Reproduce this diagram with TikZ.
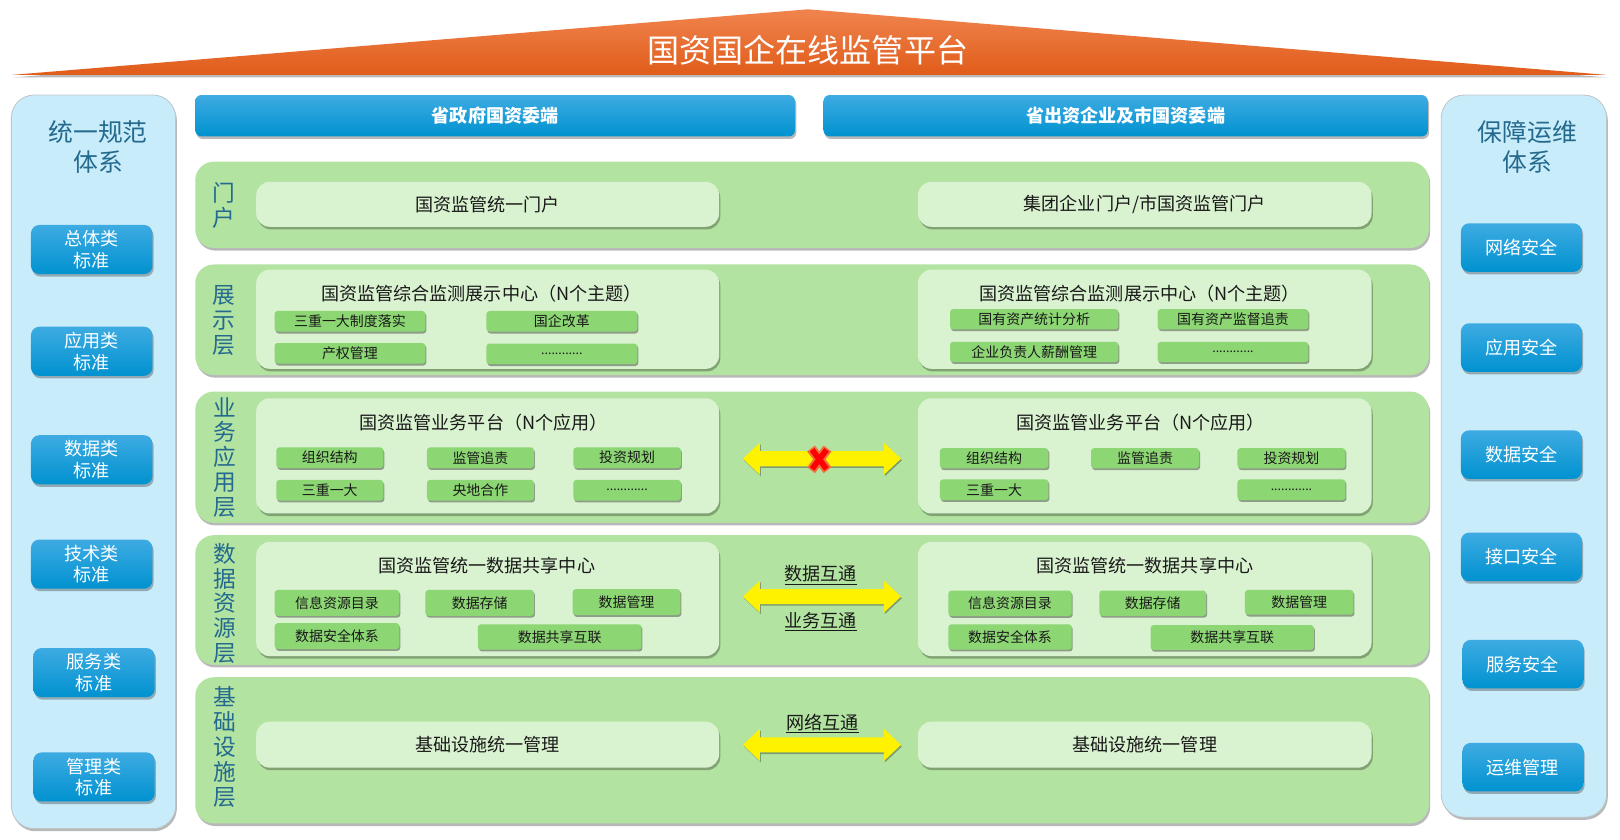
\documentclass[tikz,border=0pt]{standalone}
\usepackage{fontspec}
\setmainfont{Noto Sans CJK SC}
\usetikzlibrary{shadows}
\definecolor{rowg}{RGB}{179,227,161}
\definecolor{innerg}{RGB}{217,242,208}
\definecolor{itemg}{RGB}{140,214,115}
\definecolor{labblue}{RGB}{36,106,142}
\definecolor{sidebg}{RGB}{201,236,250}
\definecolor{sideline}{RGB}{190,198,204}
\definecolor{btop}{RGB}{62,171,226}
\definecolor{bbot}{RGB}{0,146,208}
\definecolor{otop}{RGB}{240,132,78}
\definecolor{obot}{RGB}{224,92,26}
\definecolor{txt}{RGB}{25,25,25}
\definecolor{xorange}{RGB}{240,112,62}
\newcommand\fsz[2]{\fontsize{#1}{#2}\selectfont}
\begin{document}
\begin{tikzpicture}[x=1pt,y=-1pt,
  shad/.style={drop shadow={shadow xshift=1.2pt,shadow yshift=-2.5pt,opacity=0.28,fill=black}},
  ishad/.style={drop shadow={shadow xshift=1pt,shadow yshift=-1.8pt,opacity=0.35,fill=black}},
  bw/.style={minimum width=#1pt}, bh/.style={minimum height=#1pt},
  panel/.style={rounded corners=22pt, fill=sidebg, draw=sideline, line width=0.8pt, shad, inner sep=0pt},
  rowbox/.style={rounded corners=18pt, fill=rowg, shad, inner sep=0pt},
  innerbox/.style={rounded corners=13pt, fill=innerg, shad, inner sep=0pt, text=txt, font=\fsz{17.5}{21}},
  item/.style={rounded corners=3pt, fill=itemg, ishad, inner sep=0pt, text=txt, font=\fsz{13.5}{16}},
  dotitem/.style={item, font=\fsz{12}{14}},
  header/.style={rounded corners=6pt, top color=btop, bottom color=bbot, shad, inner sep=0pt, text=white, font=\bfseries\fsz{17.5}{21}},
  sidebtn/.style={rounded corners=8pt, top color=btop, bottom color=bbot, shad, inner sep=0pt, text=white, align=center, font=\fsz{17.5}{21}},
  layer/.style={text=labblue, align=center, font=\fsz{22}{24}, inner sep=0pt},
  ptitle/.style={text=labblue, align=center, font=\fsz{24}{29}, inner sep=0pt},
  ititle/.style={text=txt, font=\fsz{17.5}{21}, inner sep=0pt},
  alabel/.style={text=txt, font=\fsz{17.5}{21}, inner sep=0pt},
  yarrow/.style={fill=yellow, drop shadow={shadow xshift=1pt,shadow yshift=-1.5pt,opacity=0.3,fill=black}}
]
\useasboundingbox (0,0) rectangle (1568,813);
\fill[white] (0,0) rectangle (1568,813);

% ---------- title ----------
\path[top color=otop, bottom color=obot, shad] (11.5,72.5) -- (782,9) -- (1555,72.5) -- cycle;
\node[text=white, font=\fsz{31}{36}, inner sep=0pt] (title) at (782,48.5) {国资国企在线监管平台};

% ---------- side panels ----------
\node[panel, bw=159, bh=710] (lpanel) at (90.5,447) {};
\node[panel, bw=160, bh=699] (rpanel) at (1475,441.5) {};
\node[ptitle] (lptitle) at (95,142) {统一规范\\体系};
\node[ptitle] (rptitle) at (1478.5,142) {保障运维\\体系};

\node[sidebtn, bw=117.5, bh=47.5] (s1) at (88.75,241.5) {总体类\\标准};
\node[sidebtn, bw=117.5, bh=47.5] (s2) at (88.75,340) {应用类\\标准};
\node[sidebtn, bw=117.5, bh=47.5] (s3) at (88.75,445) {数据类\\标准};
\node[sidebtn, bw=117.5, bh=47.5] (s4) at (88.75,546) {技术类\\标准};
\node[sidebtn, bw=117.5, bh=47.5] (s5) at (91,651) {服务类\\标准};
\node[sidebtn, bw=117.5, bh=47.5] (s6) at (91,752) {管理类\\标准};

\node[sidebtn, bw=117, bh=47] (g1) at (1472.5,239.6) {网络安全};
\node[sidebtn, bw=117, bh=47] (g2) at (1472.5,336.4) {应用安全};
\node[sidebtn, bw=117, bh=47] (g3) at (1472.5,440) {数据安全};
\node[sidebtn, bw=117, bh=47] (g4) at (1472.5,539) {接口安全};
\node[sidebtn, bw=117, bh=47] (g5) at (1474,642.8) {服务安全};
\node[sidebtn, bw=117, bh=47] (g6) at (1474,742.5) {运维管理};

% ---------- headers ----------
\node[header, bw=580.5, bh=40] (h1) at (479.25,112) {省政府国资委端};
\node[header, bw=585, bh=40] (h2) at (1089.5,112) {省出资企业及市国资委端};

% ---------- rows ----------
\node[rowbox, bw=1194, bh=83.5] (r1) at (786,198.25) {};
\node[rowbox, bw=1194, bh=107] (r2) at (786,309.5) {};
\node[rowbox, bw=1194, bh=127] (r3) at (786,442.5) {};
\node[rowbox, bw=1194, bh=125.5] (r4) at (786,580.75) {};
\node[rowbox, bw=1194, bh=141.5] (r5) at (786,726.25) {};

\node[layer] (l1) at (216.5,198.5) {门\\户};
\node[layer] (l2) at (217,310) {展\\示\\层};
\node[layer] (l3) at (217.5,442.7) {业\\务\\应\\用\\层};
\node[layer] (l4) at (217.5,584) {数\\据\\资\\源\\层};
\node[layer] (l5) at (217.5,723) {基\\础\\设\\施\\层};

% ---------- row 1 portal ----------
\node[innerbox, bw=448, bh=43.5] (p1) at (472,197.75) {国资监管统一门户};
\node[innerbox, bw=439, bh=43.5] (p2) at (1108,197.75) {集团企业门户/市国资监管门户};

% ---------- row 2 display ----------
\node[innerbox, bw=448, bh=96] (d1) at (472,309) {};
\node[innerbox, bw=439, bh=96] (d2) at (1108,309) {};
\node[ititle] (d1t) at (466,284.5) {国资监管综合监测展示中心（N个主题）};
\node[ititle] (d2t) at (1103,284) {国资监管综合监测展示中心（N个主题）};
\node[item, bw=146, bh=20] (d1a) at (338.7,311) {三重一大制度落实};
\node[item, bw=146, bh=20] (d1b) at (543.8,311) {国企改革};
\node[item, bw=146, bh=20] (d1c) at (338.7,342) {产权管理};
\node[dotitem, bw=146, bh=20] (d1d) at (543.8,342.5) {............};
\node[item, bw=163, bh=19.5] (d2a) at (1001,309) {国有资产统计分析};
\node[item, bw=146, bh=19.5] (d2b) at (1193.4,309) {国有资产监督追责};
\node[item, bw=163, bh=19.5] (d2c) at (1001,340.7) {企业负责人薪酬管理};
\node[dotitem, bw=146, bh=19.5] (d2d) at (1193.4,340.7) {............};

% ---------- row 3 business ----------
\node[innerbox, bw=448, bh=111.5] (b1) at (472,441.25) {};
\node[innerbox, bw=439, bh=111.5] (b2) at (1108,441.25) {};
\node[ititle] (b1t) at (468,409.5) {国资监管业务平台（N个应用）};
\node[ititle] (b2t) at (1104,409.5) {国资监管业务平台（N个应用）};
\node[item, bw=103.5, bh=20] (b1a) at (319.2,443) {组织结构};
\node[item, bw=103.5, bh=20] (b1b) at (465,443) {监管追责};
\node[item, bw=104, bh=20] (b1c) at (607,443) {投资规划};
\node[item, bw=103.5, bh=20] (b1d) at (319.2,474.5) {三重一大};
\node[item, bw=103.5, bh=20] (b1e) at (465,474.5) {央地合作};
\node[dotitem, bw=104, bh=20] (b1f) at (607,474.5) {............};
\node[item, bw=105, bh=19.5] (b2a) at (962.2,443.5) {组织结构};
\node[item, bw=104.5, bh=19.5] (b2b) at (1108.3,443.5) {监管追责};
\node[item, bw=104.5, bh=19.5] (b2c) at (1250,443.5) {投资规划};
\node[item, bw=105, bh=20] (b2d) at (962.2,474) {三重一大};
\node[dotitem, bw=104.5, bh=20] (b2f) at (1250,474) {............};

% ---------- row 4 data ----------
\node[innerbox, bw=448, bh=110.5] (c1) at (472,579.75) {};
\node[innerbox, bw=439, bh=110.5] (c2) at (1108,579.75) {};
\node[ititle] (c1t) at (471,547) {国资监管统一数据共享中心};
\node[ititle] (c2t) at (1108,547) {国资监管统一数据共享中心};
\node[item, bw=120.6, bh=25] (c1a) at (326.2,583.5) {信息资源目录};
\node[item, bw=105, bh=25] (c1b) at (464.3,583.5) {数据存储};
\node[item, bw=104.3, bh=25] (c1c) at (606.4,582.8) {数据管理};
\node[item, bw=120.6, bh=25] (c1d) at (326.2,615.7) {数据安全体系};
\node[item, bw=158.3, bh=24.5] (c1e) at (541.7,616.5) {数据共享互联};
\node[item, bw=119.4, bh=24.5] (c2a) at (977.6,584) {信息资源目录};
\node[item, bw=103.3, bh=24.5] (c2b) at (1115.7,583.8) {数据存储};
\node[item, bw=105, bh=24] (c2c) at (1257.5,583) {数据管理};
\node[item, bw=119.4, bh=24.5] (c2d) at (977.6,616.5) {数据安全体系};
\node[item, bw=158, bh=24] (c2e) at (1192.7,617) {数据共享互联};

% ---------- row 5 infrastructure ----------
\node[innerbox, bw=448, bh=44.5] (i1) at (472,720.75) {基础设施统一管理};
\node[innerbox, bw=439, bh=44.5] (i2) at (1108,720.75) {基础设施统一管理};

% ---------- arrows ----------
\foreach \ay/\nm in {444/ab, 577.5/ac, 721/ai}{
  \path[yarrow, shift={(0,\ay)}] (719,0) -- (735.5,-15.5) -- (735.5,-7.3) -- (855.5,-7.3) -- (855.5,-15.5)
     -- (872,0) -- (855.5,15.5) -- (855.5,7.3) -- (735.5,7.3) -- (735.5,15.5) -- cycle;
}
\coordinate (xc) at (793,444.6);
\draw[xorange, line width=9.5pt, shift={(793,444.6)}] (-8,-10.5) -- (8,10.5) (-8,10.5) -- (8,-10.5);
\draw[red, line width=5.5pt, shift={(793,444.6)}] (-7,-9.3) -- (7,9.3) (-7,9.3) -- (7,-9.3);

\node[alabel] (lab1) at (794.5,556.5) {\underline{数据互通}};
\node[alabel] (lab2) at (794.5,601.5) {\underline{业务互通}};
\node[alabel] (lab3) at (796,700) {\underline{网络互通}};
\end{tikzpicture}
\end{document}
